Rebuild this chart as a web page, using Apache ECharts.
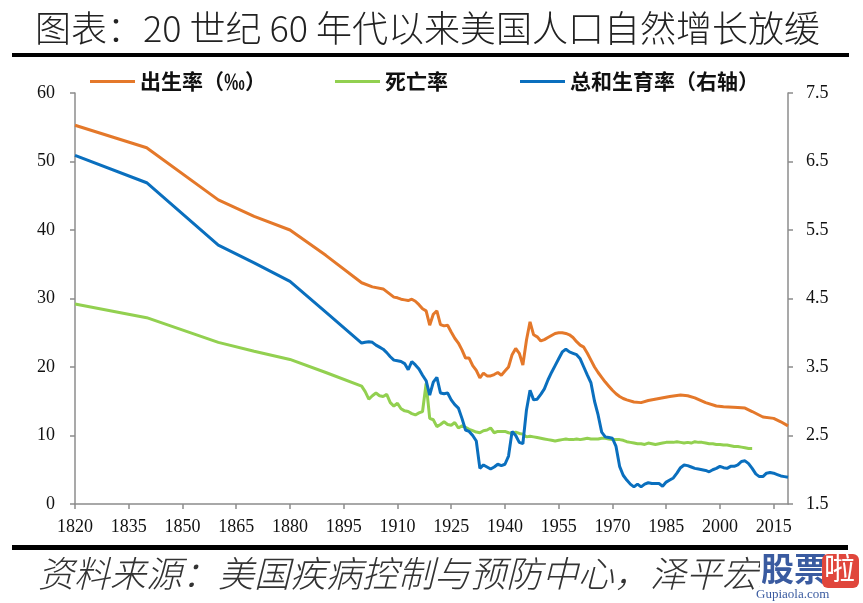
<!DOCTYPE html>
<html>
<head>
<meta charset="utf-8">
<script src="https://cdn.jsdelivr.net/npm/echarts@6/dist/echarts.min.js"></script>
<style>
html,body{margin:0;padding:0;background:#fff;}
#chart{width:863px;height:603px;}
</style>
</head>
<body>
<div id="chart"></div>
<script>
// ---- Data ----
const titleText = '图表：20 世纪 60 年代以来美国人口自然增长放缓';
const sourceText = '资料来源：美国疾病控制与预防中心，泽平宏观';
const seriesNames = ['出生率（‰）', '死亡率', '总和生育率（右轴）'];
const xTickYears = [1820,1835,1850,1865,1880,1895,1910,1925,1940,1955,1970,1985,2000,2015];
const leftTicks = [0,10,20,30,40,50,60];
const rightTicks = [1.5,2.5,3.5,4.5,5.5,6.5,7.5];

const birthYears = [1820,1840,1860,1870,1880,1890,1900,1903,1906,1909,1910,1911,1912,1913,1914,1915,1916,1917,1918,1919,1920,1921,1922,1923,1924,1925,1926,1927,1928,1929,1930,1931,1932,1933,1934,1935,1936,1937,1938,1939,1940,1941,1942,1943,1944,1945,1946,1947,1948,1949,1950,1951,1952,1953,1954,1955,1956,1957,1958,1959,1960,1961,1962,1963,1964,1965,1966,1967,1968,1969,1970,1971,1972,1973,1974,1976,1978,1980,1983,1986,1989,1991,1993,1996,1999,2001,2005,2007,2009,2012,2015,2017,2019];
const birthRate  = [55.3,52.0,44.4,42.0,40.0,36.3,32.3,31.7,31.4,30.2,30.1,29.9,29.8,29.7,29.9,29.6,29.1,28.5,28.2,26.1,27.7,28.2,26.2,26.0,26.1,25.1,24.2,23.5,22.5,21.3,21.3,20.2,19.5,18.4,19.1,18.7,18.7,18.9,19.2,18.8,19.4,20.0,21.8,22.7,22.0,20.3,23.9,26.6,24.7,24.4,23.8,24.0,24.3,24.6,24.9,25.0,25.0,24.9,24.7,24.3,23.7,23.2,22.9,22.0,21.0,20.0,19.2,18.5,17.8,17.2,16.6,16.1,15.7,15.4,15.2,14.9,14.8,15.1,15.4,15.7,15.9,15.8,15.5,14.8,14.3,14.2,14.1,14.0,13.5,12.7,12.5,12.0,11.4];

const deathYears = [1820,1840,1860,1870,1880,1890,1900,1901,1902,1903,1904,1905,1906,1907,1908,1909,1910,1911,1912,1913,1914,1915,1916,1917,1918,1919,1920,1921,1922,1923,1924,1925,1926,1927,1928,1929,1930,1931,1932,1933,1934,1935,1936,1937,1938,1939,1940,1941,1942,1943,1944,1945,1946,1947,1948,1949,1950,1951,1952,1953,1954,1955,1956,1957,1958,1959,1960,1961,1962,1963,1964,1965,1966,1967,1968,1969,1970,1971,1972,1973,1974,1975,1976,1977,1978,1979,1980,1981,1982,1983,1984,1985,1986,1987,1988,1989,1990,1991,1992,1993,1994,1995,1996,1997,1998,1999,2000,2001,2002,2003,2004,2005,2006,2007,2008,2009];
const deathRate  = [29.2,27.2,23.6,22.3,21.1,19.2,17.2,16.4,15.3,15.8,16.2,15.8,15.7,16.0,14.8,14.3,14.7,13.9,13.6,13.5,13.2,13.0,13.3,13.5,17.6,12.5,12.3,11.3,11.6,12.0,11.6,11.5,11.9,11.1,11.4,11.2,10.9,10.7,10.5,10.4,10.7,10.8,11.1,10.4,10.6,10.6,10.6,10.4,10.3,10.5,10.3,10.2,9.8,9.9,9.8,9.7,9.6,9.5,9.4,9.3,9.2,9.3,9.4,9.5,9.4,9.4,9.5,9.4,9.5,9.6,9.5,9.5,9.5,9.6,9.6,9.5,9.4,9.4,9.4,9.3,9.1,9.0,8.9,8.8,8.8,8.7,8.9,8.8,8.7,8.8,8.9,9.0,9.0,9.0,9.1,9.0,8.9,9.0,8.9,9.1,9.0,9.0,8.9,8.8,8.8,8.7,8.7,8.6,8.6,8.5,8.4,8.4,8.3,8.2,8.1,8.1];

const tfrYears = [1820,1840,1860,1870,1880,1890,1900,1901,1902,1903,1904,1905,1906,1907,1908,1909,1910,1911,1912,1913,1914,1915,1916,1917,1918,1919,1920,1921,1922,1923,1924,1925,1926,1927,1928,1929,1930,1931,1932,1933,1934,1935,1936,1937,1938,1939,1940,1941,1942,1943,1944,1945,1946,1947,1948,1949,1950,1951,1952,1953,1954,1955,1956,1957,1958,1959,1960,1961,1962,1963,1964,1965,1966,1967,1968,1969,1970,1971,1972,1973,1974,1975,1976,1977,1978,1979,1980,1981,1982,1983,1984,1985,1986,1987,1988,1989,1990,1991,1992,1993,1994,1995,1996,1997,1998,1999,2000,2001,2002,2003,2004,2005,2006,2007,2008,2009,2010,2011,2012,2013,2014,2015,2016,2017,2018,2019];
const tfr      = [6.59,6.19,5.28,5.02,4.75,4.30,3.85,3.86,3.87,3.86,3.82,3.79,3.76,3.71,3.65,3.60,3.59,3.58,3.55,3.46,3.58,3.53,3.47,3.38,3.30,3.09,3.28,3.35,3.12,3.11,3.12,3.02,2.95,2.90,2.75,2.58,2.56,2.50,2.42,2.02,2.07,2.04,2.01,2.04,2.08,2.06,2.08,2.20,2.56,2.50,2.40,2.38,2.87,3.16,3.02,3.03,3.10,3.18,3.31,3.42,3.52,3.62,3.72,3.76,3.72,3.70,3.68,3.62,3.50,3.38,3.27,3.00,2.80,2.55,2.48,2.47,2.46,2.34,2.05,1.92,1.85,1.79,1.75,1.79,1.75,1.79,1.81,1.80,1.80,1.80,1.76,1.82,1.85,1.88,1.95,2.03,2.07,2.06,2.04,2.02,2.01,2.00,1.99,1.97,2.00,2.02,2.05,2.03,2.02,2.05,2.05,2.07,2.12,2.13,2.09,2.02,1.94,1.90,1.90,1.95,1.96,1.95,1.93,1.91,1.90,1.89];

const colors = ['#E4782A', '#92D050', '#0A6FBE'];

function pairs(xs, ys){ return xs.map((x,i)=>[x, ys[i]]); }

const chart = echarts.init(document.getElementById('chart'), null, {renderer:'canvas'});
const axisGray = '#8C8C8C';
const labelFont = {fontFamily:'Liberation Serif', fontSize:18, color:'#111'};
const legendText = {fontFamily:'Noto Sans CJK SC', fontSize:21, fontWeight:'bold', color:'#111'};

const option = {
  backgroundColor:'#fff',
  animation:false,
  grid:{left:75, right:75, top:93, bottom:99},
  legend:[
    {data:[seriesNames[0]], left:85, top:66, icon:'rect', itemWidth:45, itemHeight:3, itemGap:0, textStyle:legendText},
    {data:[seriesNames[1]], left:330, top:66, icon:'rect', itemWidth:45, itemHeight:3, itemGap:0, textStyle:legendText},
    {data:[seriesNames[2]], left:515, top:66, icon:'rect', itemWidth:45, itemHeight:3, itemGap:0, textStyle:legendText}
  ],
  xAxis:{
    type:'value', min:1820, max:2019,
    axisLine:{show:true, lineStyle:{color:axisGray, width:1.5}},
    axisTick:{show:true, length:5, lineStyle:{color:axisGray, width:1.5}, customValues:xTickYears},
    axisLabel:Object.assign({margin:14, customValues:xTickYears, formatter:v=>String(v)}, labelFont),
    splitLine:{show:false}
  },
  yAxis:[
    {
      type:'value', min:0, max:60, interval:10, position:'left',
      axisLine:{show:true, lineStyle:{color:axisGray, width:1.5}},
      axisTick:{show:true, length:5, lineStyle:{color:axisGray, width:1.5}},
      axisLabel:Object.assign({margin:20}, labelFont),
      splitLine:{show:false}
    },
    {
      type:'value', min:1.5, max:7.5, position:'right',
      axisLine:{show:true, lineStyle:{color:axisGray, width:1.5}},
      axisTick:{show:true, length:5, lineStyle:{color:axisGray, width:1.5}, customValues:rightTicks},
      axisLabel:Object.assign({margin:18, customValues:rightTicks, formatter:v=>Number(v).toFixed(1)}, labelFont),
      splitLine:{show:false}
    }
  ],
  series:[
    {name:seriesNames[0], type:'line', yAxisIndex:0, data:pairs(birthYears,birthRate), symbol:'none', lineStyle:{color:colors[0], width:3}, itemStyle:{color:colors[0]}},
    {name:seriesNames[1], type:'line', yAxisIndex:0, data:pairs(deathYears,deathRate), symbol:'none', lineStyle:{color:colors[1], width:3}, itemStyle:{color:colors[1]}},
    {name:seriesNames[2], type:'line', yAxisIndex:1, data:pairs(tfrYears,tfr), symbol:'none', lineStyle:{color:colors[2], width:3}, itemStyle:{color:colors[2]}}
  ],
  graphic:[
    {type:'text', left:35, top:10, style:{text:titleText, font:'300 36px "Noto Sans CJK SC"', fill:'#222'}},
    {type:'rect', shape:{x:12, y:53, width:837, height:4}, style:{fill:'#000'}},
    {type:'rect', shape:{x:12, y:545, width:836, height:5}, style:{fill:'#000'}},
    {type:'text', left:38, top:555, style:{text:sourceText, font:'italic 300 36px "Noto Sans CJK SC"', fill:'#333'}},
    {type:'rect', shape:{x:760, y:551, width:103, height:52}, style:{fill:'#fff'}},
    {type:'text', left:761, top:552, style:{text:'股票', font:'bold 33px "Noto Sans CJK SC"', fill:'#3A5BA0'}},
    {type:'rect', shape:{x:822, y:554, width:37, height:34, r:6}, style:{fill:'#E0463C'}},
    {type:'text', left:824, top:552, style:{text:'啦', font:'normal 31px "Noto Sans CJK SC"', fill:'#fff'}},
    {type:'text', left:756, top:588, style:{text:'Gupiaola.com', font:'normal 13px "Liberation Serif"', fill:'#3A5BA0'}}
  ]
};
chart.setOption(option);
</script>
</body>
</html>
